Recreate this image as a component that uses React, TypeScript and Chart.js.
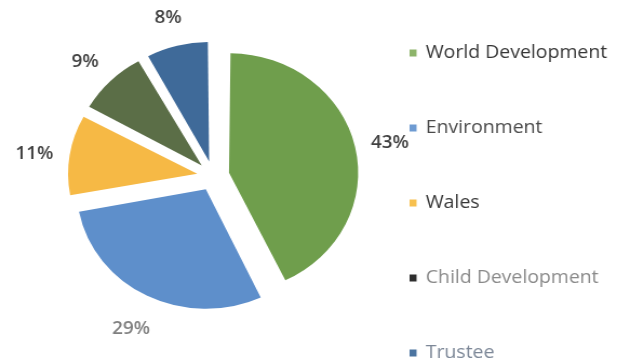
import { useEffect, useRef } from "react";
import { Chart, registerables } from "chart.js";

Chart.register(...registerables);

const categories = ["World Development", "Environment", "Wales", "Child Development", "Trustee"];
const values = [43, 29, 11, 9, 8];
const sliceColors = ["#6F9E4C", "#5E8FCB", "#F6B945", "#5B6E47", "#3F6A99"];
const legendMarkerColors = ["#8DB46A", "#6E9BD2", "#F7C04F", "#2E2E2E", "#4B74A0"];
const legendTextColors = ["#363636", "#4A4A4A", "#363636", "#8A8A8A", "#7C8797"];
const labelColors = ["#404040", "#7F7F7F", "#404040", "#404040", "#404040"];

const FONT = "'Open Sans', sans-serif";
const RADIUS = 119.5;
const EXPLODE = 15;
// the reference picture is stretched horizontally
const STRETCH = 1.08;
const W = 617;
const H = 363;
const LW = Math.round(W / STRETCH);
const CX = 197.3;
const CY = 176;

const labelsPlugin = {
  id: "pctLabels",
  beforeDatasetsDraw(chart: any) {
    // keep every exploded slice at the same radius
    const meta = chart.getDatasetMeta(0);
    meta.data.forEach((arc: any) => {
      const fix = 1 - Math.sin(Math.min(Math.PI, arc.circumference || 0));
      arc.outerRadius = RADIUS - EXPLODE * fix;
    });
  },
  afterDraw(chart: any) {
    const ctx = chart.ctx;
    const meta = chart.getDatasetMeta(0);
    const total = values.reduce((a, b) => a + b, 0);
    ctx.save();
    ctx.font = `600 17.5px ${FONT}`;
    ctx.textAlign = "center";
    ctx.textBaseline = "middle";
    meta.data.forEach((arc: any, i: number) => {
      const p = arc.getProps(["x", "y", "startAngle", "endAngle"], true);
      const mid = (p.startAngle + p.endAngle) / 2;
      const d = RADIUS + EXPLODE + 33;
      ctx.fillStyle = labelColors[i];
      ctx.fillText(Math.round((values[i] / total) * 100) + "%", p.x + Math.cos(mid) * d, p.y + Math.sin(mid) * d + 4);
    });
    ctx.restore();

    // legend
    ctx.save();
    ctx.font = `18px ${FONT}`;
    ctx.textAlign = "left";
    ctx.textBaseline = "middle";
    categories.forEach((c, i) => {
      const y = 53 + i * 75;
      ctx.fillStyle = legendMarkerColors[i];
      ctx.fillRect(Math.round(409 / STRETCH), y - 3.5, 6.5, 7);
      ctx.fillStyle = legendTextColors[i];
      ctx.fillText(c, Math.round(426 / STRETCH), y);
    });
    ctx.restore();
  },
};

export default function App() {
  const ref = useRef<HTMLCanvasElement>(null);
  useEffect(() => {
    const chart = new Chart(ref.current!, {
      type: "pie",
      data: {
        labels: categories,
        datasets: [
          {
            data: values,
            backgroundColor: sliceColors,
            borderWidth: 0,
            offset: EXPLODE * 4,
          },
        ],
      },
      options: {
        animation: false,
        responsive: false,
        devicePixelRatio: 1,
        radius: RADIUS,
        layout: { padding: { left: 0, right: LW - 2 * CX, top: 0, bottom: H - 2 * CY } },
        plugins: { legend: { display: false }, tooltip: { enabled: false } },
      } as any,
      plugins: [labelsPlugin],
    });
    return () => chart.destroy();
  }, []);
  return (
    <div style={{ position: "fixed", left: 0, top: 0, width: W, height: H, background: "#fff", overflow: "hidden" }}>
      <canvas ref={ref} width={LW} height={H} style={{ width: W, height: H, display: "block" }} />
    </div>
  );
}
